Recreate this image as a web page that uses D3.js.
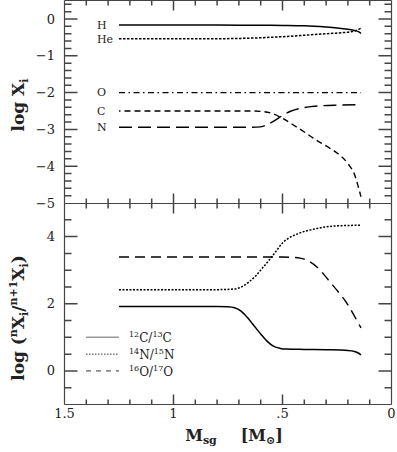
<!DOCTYPE html>
<html><head><meta charset="utf-8">
<script src="https://cdn.jsdelivr.net/npm/d3@7"></script>
<style>
html,body{margin:0;padding:0;background:#fff;}
svg{display:block;}
text{font-family:"DejaVu Serif","Liberation Serif",serif;fill:#222;}
</style></head><body>
<svg id="chart" width="397" height="452"></svg>
<script>
// ---------- data ----------
const mH  = [1.25, 1.0, 0.8, 0.6, 0.5, 0.4, 0.3, 0.25, 0.2, 0.17, 0.15, 0.14];
const vH  = [-0.16, -0.16, -0.165, -0.17, -0.175, -0.185, -0.22, -0.245, -0.28, -0.31, -0.35, -0.39];
const mHe = [1.25, 1.0, 0.8, 0.6, 0.5, 0.42, 0.35, 0.27, 0.22, 0.19, 0.165, 0.15, 0.14];
const vHe = [-0.535, -0.535, -0.535, -0.51, -0.48, -0.45, -0.42, -0.39, -0.37, -0.35, -0.32, -0.28, -0.25];
const mO  = [1.25, 0.14];
const vO  = [-2.0, -2.0];
const mC  = [1.25, 0.8, 0.65, 0.6, 0.55, 0.5, 0.45, 0.4, 0.35, 0.3, 0.25, 0.2, 0.17, 0.155, 0.14];
const vC  = [-2.5, -2.5, -2.5, -2.51, -2.56, -2.70, -2.88, -3.07, -3.27, -3.45, -3.64, -3.93, -4.22, -4.5, -4.83];
const mN  = [1.25, 0.8, 0.65, 0.6, 0.56, 0.52, 0.5, 0.46, 0.42, 0.35, 0.25, 0.14];
const vN  = [-2.94, -2.94, -2.94, -2.93, -2.84, -2.70, -2.62, -2.50, -2.43, -2.37, -2.34, -2.33];
const topLabels = ["H", "He", "O", "C", "N"];

const mCC = [1.25, 0.8, 0.75, 0.72, 0.69, 0.66, 0.63, 0.6, 0.57, 0.54, 0.51, 0.48, 0.4, 0.3, 0.2, 0.17, 0.155, 0.14];
const vCC = [1.92, 1.92, 1.91, 1.88, 1.78, 1.58, 1.34, 1.1, 0.88, 0.73, 0.67, 0.65, 0.64, 0.63, 0.61, 0.58, 0.54, 0.48];
const mNN = [1.25, 0.8, 0.72, 0.68, 0.65, 0.62, 0.59, 0.56, 0.53, 0.5, 0.47, 0.42, 0.35, 0.27, 0.2, 0.14];
const vNN = [2.42, 2.42, 2.44, 2.53, 2.67, 2.85, 3.08, 3.31, 3.56, 3.81, 3.96, 4.11, 4.23, 4.31, 4.33, 4.34];
const mOO = [1.25, 0.6, 0.5, 0.45, 0.42, 0.38, 0.33, 0.285, 0.24, 0.2, 0.17, 0.14];
const vOO = [3.39, 3.39, 3.39, 3.38, 3.36, 3.27, 3.02, 2.67, 2.32, 1.97, 1.63, 1.28];
const legendIso = [["12","C","13","C"], ["14","N","15","N"], ["16","O","17","O"]];

const xTickLabels = ["1.5", "1", ".5", "0"];
const xTickVals = [1.5, 1, 0.5, 0];
const topYTicks = [0, -1, -2, -3, -4, -5];
const botYTicks = [0, 2, 4];

// ---------- layout ----------
const svg = d3.select("#chart");
const L = 64.5, R = 391.5;
const x = d3.scaleLinear().domain([1.5, 0]).range([L, R]);
const yT = d3.scaleLinear().domain([-5, 0.5]).range([203, 0.6]);
const yB = d3.scaleLinear().domain([-1, 5]).range([404.5, 203]);
const axisCol = "#444";
const snap = v => Math.round(v - 0.5) + 0.5;

function tickPath(y, top, bottom, yMinor, isMajor) {
  const yt = snap(y(top)), yb = snap(y(bottom));
  const frameD = `M${L},${yt}V${yb}M${R},${yt}V${yb}M${L},${yt}H${R}M${L},${yb}H${R}`;
  svg.append("path").attr("d", frameD).attr("fill", "none").attr("stroke", axisCol).attr("stroke-width", 1.2);
  let d = "";
  for (let i = 1; i < 15; i++) {
    const px = x(i / 10);
    const len = (i % 5 === 0) ? 10 : 5;
    d += `M${px},${yt}v${len}M${px},${yb}v${-len}`;
  }
  yMinor.forEach(v => {
    const py = y(v);
    const len = isMajor(v) ? 13 : 7;
    d += `M${L},${py}h${len}M${R},${py}h${-len}`;
  });
  svg.append("path").attr("d", d).attr("fill", "none").attr("stroke", axisCol).attr("stroke-width", 1.5);
}
const topMinor = d3.range(-24, 3).map(i => i / 5);
tickPath(yT, 0.5, -5, topMinor, v => Math.abs(v - Math.round(v)) < 1e-6);
const botMinor = d3.range(-1, 10).map(i => i / 2);
tickPath(yB, 5, -1, botMinor, v => Math.abs(v / 2 - Math.round(v / 2)) < 1e-6);

topYTicks.forEach(v => {
  svg.append("text").attr("x", 55).attr("y", yT(v)).attr("dy", "0.35em")
    .attr("text-anchor", "end").attr("font-size", 13)
    .text(v === 0 ? "0" : "\u2212" + Math.abs(v));
});
botYTicks.forEach(v => {
  svg.append("text").attr("x", 55).attr("y", yB(v)).attr("dy", "0.35em")
    .attr("text-anchor", "end").attr("font-size", 13).text(String(v));
});
xTickVals.forEach((v, i) => {
  svg.append("text").attr("x", x(v)).attr("y", 418).attr("text-anchor", "middle")
    .attr("font-size", 13).text(xTickLabels[i]);
});

// ---------- curves ----------
function curve(y, ms, vs, dash, width, color) {
  const pts = ms.map((m, i) => [x(m), y(vs[i])]);
  svg.append("path").attr("d", d3.line().curve(d3.curveMonotoneX)(pts))
    .attr("fill", "none").attr("stroke", color || "#000")
    .attr("stroke-width", width || 1.4)
    .attr("stroke-dasharray", dash || null);
}
const cDash = "1.5,4," + d3.range(40).map(() => "6,4").join(",");
curve(yT, mH, vH, null, 1.5);
curve(yT, mHe, vHe, "2.5,1.5", 1.5);
curve(yT, mO, vO, "6,3.5,1.5,3.5", 1.4);
curve(yT, mC, vC, cDash, 1.4);
curve(yT, mN, vN, "13,6", 1.4);

const labelVals = [vH[0], vHe[0], vO[0], vC[0], vN[0]];
topLabels.forEach((t, i) => {
  svg.append("text").attr("x", 97).attr("y", yT(labelVals[i])).attr("dy", "0.35em")
    .attr("font-size", 11).text(t);
});

curve(yB, mCC, vCC, null, 1.5);
curve(yB, mNN, vNN, "2,1.5", 1.5);
curve(yB, mOO, vOO, "10,6", 1.4);

// legend
const legY = [1, 0.5, 0];
const legStyles = [[null, "#999", 1.5], ["1.5,1.5", "#333", 1], ["5,5", "#333", 1]];
legendIso.forEach((iso, i) => {
  const py = yB(legY[i]);
  svg.append("line").attr("x1", 86).attr("x2", 119).attr("y1", py).attr("y2", py)
    .attr("stroke", legStyles[i][1]).attr("stroke-width", legStyles[i][2])
    .attr("stroke-dasharray", legStyles[i][0]);
  const t = svg.append("text").attr("x", 129).attr("y", py + 5).attr("font-size", 12);
  t.append("tspan").attr("font-size", 8).attr("dy", -5).text(iso[0]);
  t.append("tspan").attr("dy", 5).text(iso[1] + "/");
  t.append("tspan").attr("font-size", 8).attr("dy", -5).text(iso[2]);
  t.append("tspan").attr("dy", 5).text(iso[3]);
});

// axis titles
const yl1 = svg.append("text").attr("transform", "translate(24,105) rotate(-90)")
  .attr("text-anchor", "middle").attr("font-size", 17).attr("font-weight", "bold");
yl1.append("tspan").text("log X");
yl1.append("tspan").attr("font-size", 11).attr("dy", 4).text("i");

const yl2 = svg.append("text").attr("transform", "translate(24,318) rotate(-90)")
  .attr("text-anchor", "middle").attr("font-size", 17).attr("font-weight", "bold");
yl2.append("tspan").text("log (");
yl2.append("tspan").attr("font-size", 11).attr("dy", -7).text("n");
yl2.append("tspan").attr("dy", 7).text("X");
yl2.append("tspan").attr("font-size", 11).attr("dy", 4).text("i");
yl2.append("tspan").attr("dy", -4).text("/");
yl2.append("tspan").attr("font-size", 11).attr("dy", -7).text("n+1");
yl2.append("tspan").attr("dy", 7).text("X");
yl2.append("tspan").attr("font-size", 11).attr("dy", 4).text("i");
yl2.append("tspan").attr("dy", -4).text(")");

const xl = svg.append("text").attr("x", 234).attr("y", 441).attr("text-anchor", "middle")
  .attr("font-size", 16).attr("font-weight", "bold");
xl.append("tspan").text("M");
xl.append("tspan").attr("font-size", 11).attr("dy", 3).text("sg");
xl.append("tspan").attr("dy", -3).text("\u2003\u2002[M");
xl.append("tspan").attr("font-size", 11).attr("dy", 3).text("\u2299");
xl.append("tspan").attr("dy", -3).text("]");
</script>
</body></html>
